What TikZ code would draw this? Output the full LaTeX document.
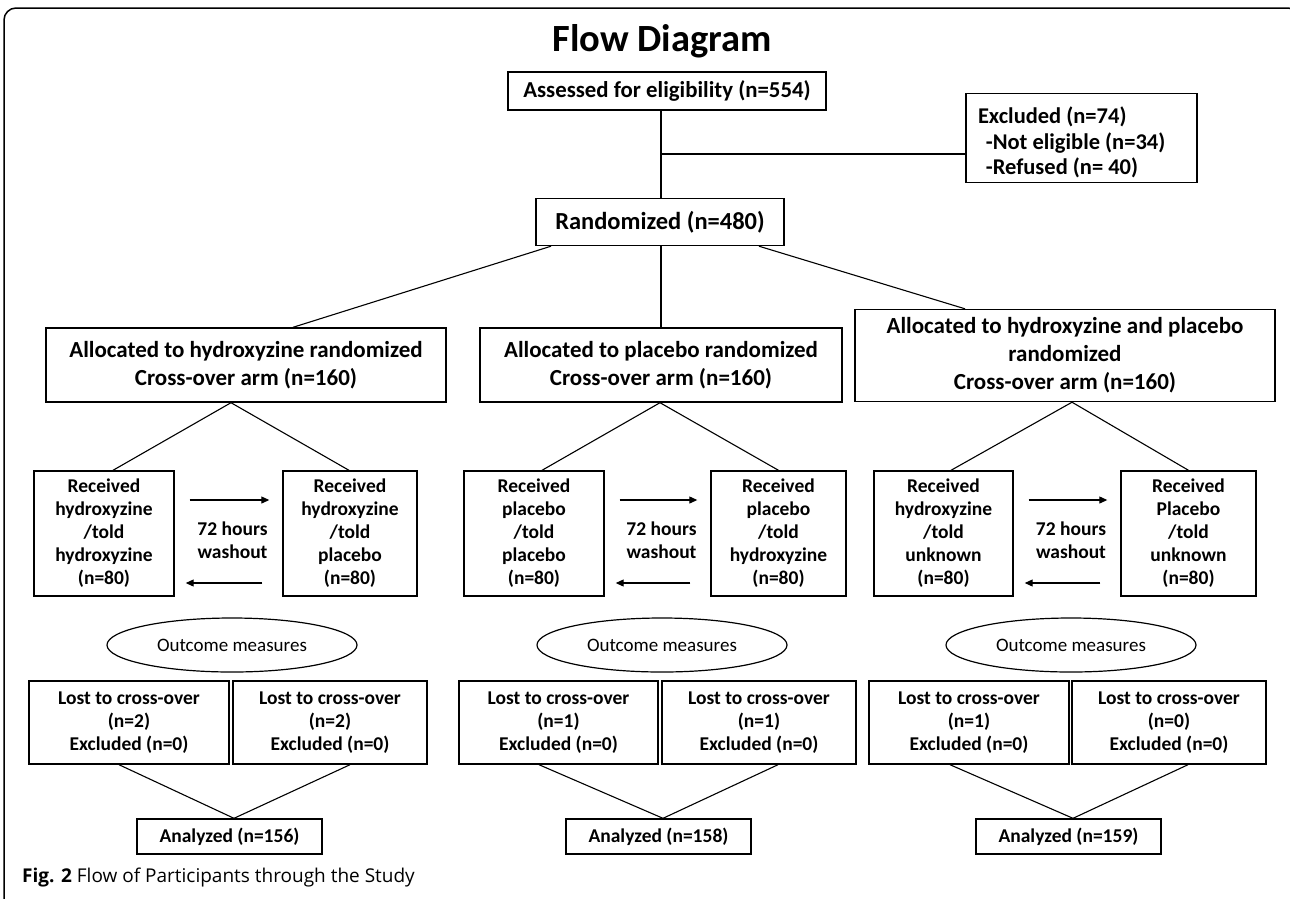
\documentclass[tikz,border=0pt]{standalone}
\usepackage{fontspec}
\setmainfont{Carlito}
\newfontfamily\capfont{Open Sans}
\usetikzlibrary{calc,shapes.geometric,arrows.meta}
\begin{document}
\begin{tikzpicture}[x=1pt,y=-1pt,
  box/.style={draw, line width=1.4pt, inner sep=0pt, align=center, font=\bfseries\fontsize{19.5}{23}\selectfont},
  wbox/.style={box, font=\bfseries\fontsize{23}{28}\selectfont},
  conn/.style={line width=1.1pt},
  arr/.style={line width=1.1pt, -{Triangle[length=8pt,width=7pt]}},
  washtxt/.style={inner sep=0pt, align=center, font=\bfseries\fontsize{19.5}{23}\selectfont},
  oval/.style={draw, ellipse, line width=1.2pt, minimum width=250pt, minimum height=54pt, inner sep=0pt, font=\fontsize{19}{23}\selectfont}
]
\useasboundingbox (0,0) rectangle (1290,898);
\begin{scope}
\clip (0,0) rectangle (1290,898);
\draw[line width=1.5pt, rounded corners=12pt] (4,8) rectangle (1300,912);
\end{scope}

\node[font=\bfseries\fontsize{38.5}{42}\selectfont, anchor=base, inner sep=0pt] (title) at (662,51) {Flow Diagram};

\node[box, minimum width=318pt, minimum height=38pt, font=\bfseries\fontsize{22.8}{26}\selectfont] (assess) at (667,91) {Assessed for eligibility (n=554)};
\node[box, minimum width=231pt, minimum height=88pt, font=\bfseries\fontsize{22.5}{25.5}\selectfont] (excl) at (1081.5,138) {\makebox[207pt][l]{\begin{tabular}{@{}l@{}}\rule{0pt}{30pt}Excluded (n=74)\\\hspace*{0.35em}-Not eligible (n=34)\\\hspace*{0.35em}-Refused (n= 40)\end{tabular}}};
\node[box, minimum width=248pt, minimum height=47pt, font=\bfseries\fontsize{24.5}{28}\selectfont] (rand) at (660,222) {Randomized (n=480)};

\draw[conn] ([xshift=-6pt]assess.south) -- ([xshift=-6pt]assess.south |- rand.north);
\coordinate (br) at ($(excl.west)+(0,16)$);
\draw[line width=2pt] (br -| rand.north) -- (br);

\node[wbox, minimum width=400pt, minimum height=74pt] (alL) at (246,365) {Allocated to hydroxyzine randomized\\Cross-over arm (n=160)};
\node[wbox, minimum width=362pt, minimum height=74pt] (alM) at (661,365) {Allocated to placebo randomized\\Cross-over arm (n=160)};
\node[wbox, minimum width=420pt, minimum height=92pt] (alR) at (1065,355.5) {Allocated to hydroxyzine and placebo\\randomized\\Cross-over arm (n=160)};

\draw[conn] ([xshift=-109pt]rand.south) -- ([xshift=47pt]alL.north);
\draw[conn] ([xshift=1pt]rand.south) -- ([xshift=1pt]rand.south |- alM.north);
\draw[conn] ([xshift=99pt]rand.south) -- ([xshift=-100pt]alR.north);

\node[box, minimum width=140pt, minimum height=125pt] (L1) at (104,533.5) {Received\\hydroxyzine\\/told\\hydroxyzine\\(n=80)};
\node[box, minimum width=134pt, minimum height=125pt] (L2) at (350,533.5) {Received\\hydroxyzine\\/told\\placebo\\(n=80)};
\node[box, minimum width=140pt, minimum height=125pt] (M1) at (534,533.5) {Received\\placebo\\/told\\placebo\\(n=80)};
\node[box, minimum width=135pt, minimum height=125pt] (M2) at (778.5,533.5) {Received\\placebo\\/told\\hydroxyzine\\(n=80)};
\node[box, minimum width=139pt, minimum height=125pt] (R1) at (943.5,533.5) {Received\\hydroxyzine\\/told\\unknown\\(n=80)};
\node[box, minimum width=135pt, minimum height=125pt] (R2) at (1188.5,533.5) {Received\\Placebo\\/told\\unknown\\(n=80)};

\draw[conn] ([xshift=9pt]L1.north) -- ([xshift=-15pt]alL.south) -- ([xshift=-1pt]L2.north);
\draw[conn] ([xshift=8pt]M1.north) -- ([xshift=-1pt]alM.south) -- (M2.north);
\draw[conn] ([xshift=7.5pt]R1.north) -- ([xshift=7pt]alR.south) -- (R2.north);

\draw[arr] ($(L1.east)+(15,-33.5)$) -- ($(L2.west)+(-13,-33.5)$);
\draw[arr] ($(L2.west)+(-20,49.5)$) -- ($(L1.east)+(11,49.5)$);
\node[washtxt] (wL) at ($(L1.east)!0.5!(L2.west)+(4,7)$) {72 hours\\washout};
\draw[arr] ($(M1.east)+(15,-33.5)$) -- ($(M2.west)+(-13,-33.5)$);
\draw[arr] ($(M2.west)+(-20,49.5)$) -- ($(M1.east)+(11,49.5)$);
\node[washtxt] (wM) at ($(M1.east)!0.5!(M2.west)+(4,7)$) {72 hours\\washout};
\draw[arr] ($(R1.east)+(15,-33.5)$) -- ($(R2.west)+(-13,-33.5)$);
\draw[arr] ($(R2.west)+(-20,49.5)$) -- ($(R1.east)+(11,49.5)$);
\node[washtxt] (wR) at ($(R1.east)!0.5!(R2.west)+(4,7)$) {72 hours\\washout};

\node[oval] (oL) at (232,645) {Outcome measures};
\node[oval] (oM) at (662,645) {Outcome measures};
\node[oval] (oR) at (1071,645) {Outcome measures};

\node[box, minimum width=200pt, minimum height=83pt] (La) at (129,722.5) {Lost to cross-over\\(n=2)\\Excluded (n=0)};
\node[box, minimum width=194pt, minimum height=83pt] (Lb) at (330,722.5) {Lost to cross-over\\(n=2)\\Excluded (n=0)};
\node[box, minimum width=199pt, minimum height=83pt] (Ma) at (558.5,722.5) {Lost to cross-over\\(n=1)\\Excluded (n=0)};
\node[box, minimum width=194pt, minimum height=83pt] (Mb) at (759,722.5) {Lost to cross-over\\(n=1)\\Excluded (n=0)};
\node[box, minimum width=200pt, minimum height=83pt] (Ra) at (969,722.5) {Lost to cross-over\\(n=1)\\Excluded (n=0)};
\node[box, minimum width=194pt, minimum height=83pt] (Rb) at (1169,722.5) {Lost to cross-over\\(n=0)\\Excluded (n=0)};

\node[box, minimum width=185pt, minimum height=35pt] (AL) at (229.5,836.5) {Analyzed (n=156)};
\node[box, minimum width=185pt, minimum height=35pt] (AM) at (658.5,836.5) {Analyzed (n=158)};
\node[box, minimum width=185pt, minimum height=35pt] (AR) at (1068.5,836.5) {Analyzed (n=159)};

\draw[conn] ([xshift=-10pt]La.south) -- ([xshift=4.5pt]AL.north) -- ([xshift=20pt]Lb.south);
\draw[conn] ([xshift=-19.5pt]Ma.south) -- ([xshift=4.5pt]AM.north) -- ([xshift=19pt]Mb.south);
\draw[conn] ([xshift=-19pt]Ra.south) -- ([xshift=4.5pt]AR.north) -- ([xshift=19pt]Rb.south);

\node[anchor=base west, inner sep=0pt, font=\capfont\fontsize{19}{22}\selectfont] (cap) at (22,882) {\textbf{Fig. 2} Flow of Participants through the Study};
\end{tikzpicture}
\end{document}
